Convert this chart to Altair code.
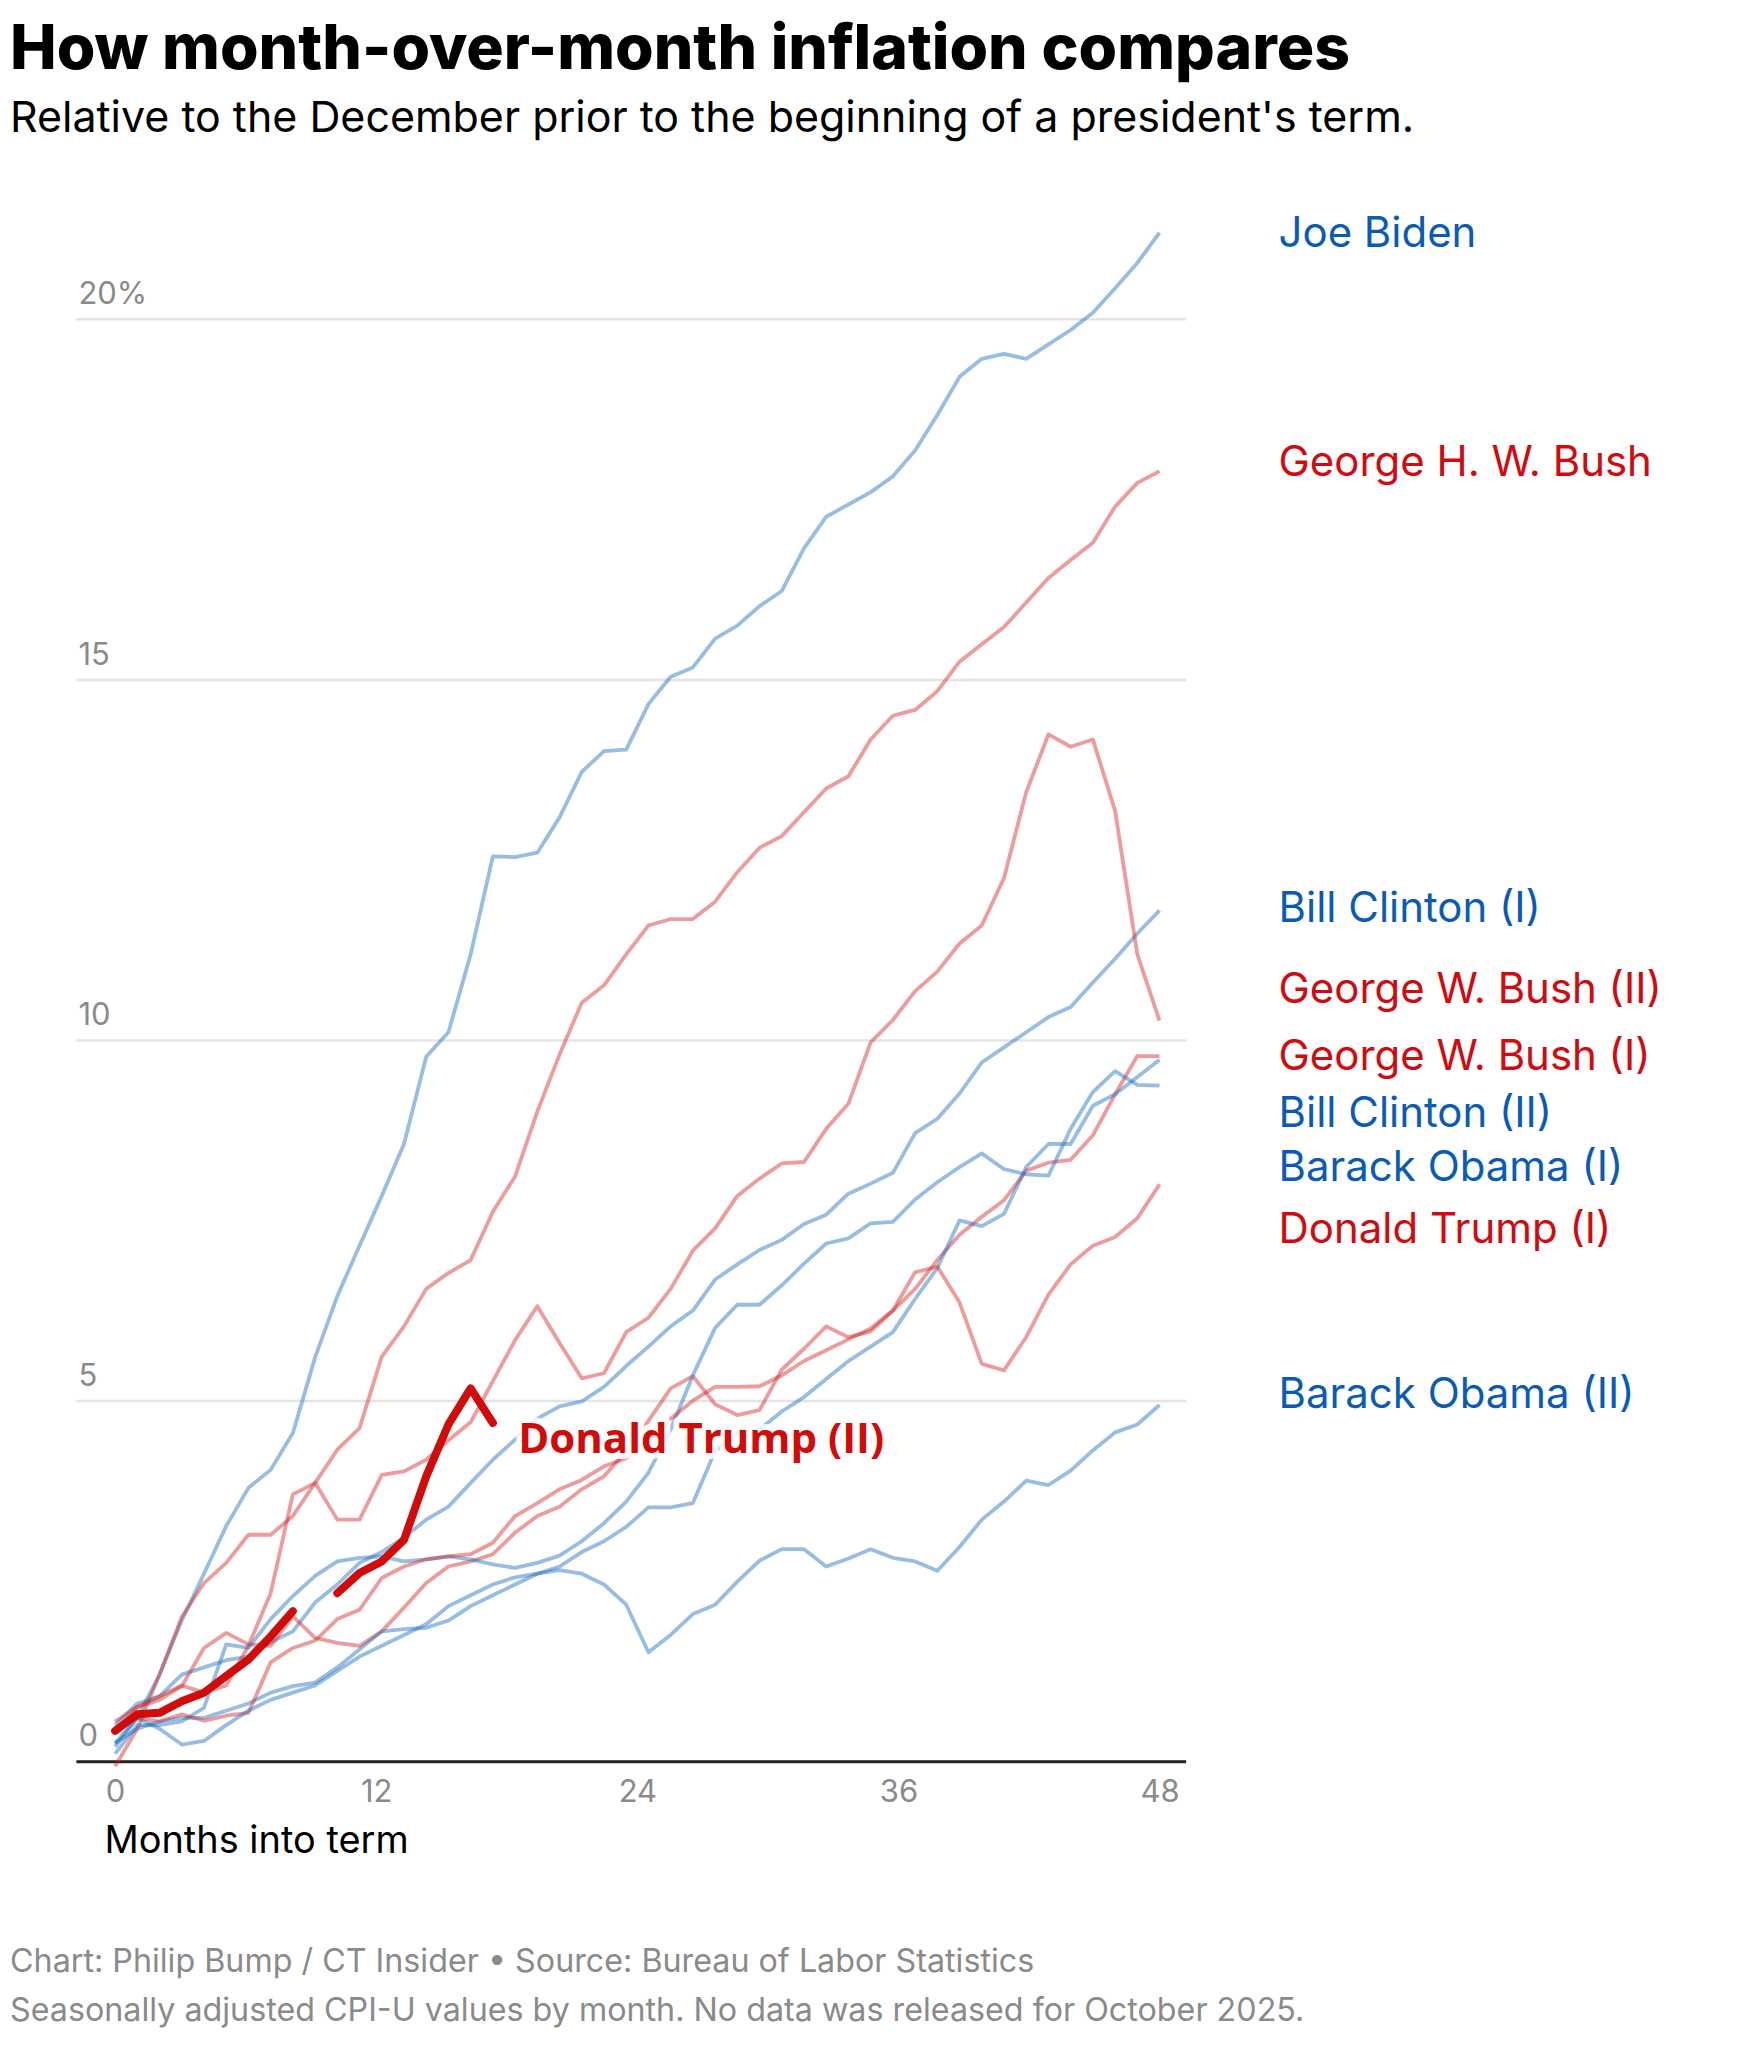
import altair as alt
import pandas as pd

TITLE = "How month-over-month inflation compares"
SUBTITLE = "Relative to the December prior to the beginning of a president's term."
FOOTER_1 = "Chart: Philip Bump / CT Insider \u2022 Source: Bureau of Labor Statistics"
FOOTER_2 = "Seasonally adjusted CPI-U values by month. No data was released for October 2025."
X_TITLE = "Months into term"
TRUMP2_LABEL = "Donald Trump (II)"

presidents = ["Joe Biden", "George H. W. Bush", "Bill Clinton (I)", "George W. Bush (II)",
              "George W. Bush (I)", "Bill Clinton (II)", "Barack Obama (I)",
              "Donald Trump (I)", "Barack Obama (II)"]
parties = ["D", "R", "D", "R", "R", "D", "D", "R", "D"]
label_y = [21.18, 18.0, 11.82, 10.69, 9.77, 8.98, 8.23, 7.36, 5.08]

# cumulative % change vs. the December before the term, months 1..48
biden = [0.25, 0.6, 1.2, 1.95, 2.6, 3.26, 3.79, 4.04, 4.55, 5.6, 6.45, 7.15, 7.84, 8.56, 9.77, 10.11,
         11.19, 12.55, 12.54, 12.6, 13.09, 13.72, 14.01, 14.03, 14.66, 15.04, 15.17, 15.57, 15.75, 16.02,
         16.23, 16.82, 17.26, 17.43, 17.6, 17.82, 18.18, 18.67, 19.2, 19.45, 19.52, 19.45, 19.65, 19.85,
         20.09, 20.43, 20.78, 21.2]
ghw_bush = [-0.07, 0.45, 1.2, 2.0, 2.47, 2.75, 3.14, 3.14, 3.4, 3.86, 4.32, 4.62, 5.61, 6.03, 6.55, 6.77,
            6.95, 7.62, 8.11, 9.01, 9.8, 10.52, 10.76, 11.19, 11.59, 11.68, 11.68, 11.92, 12.33, 12.67,
            12.83, 13.16, 13.49, 13.66, 14.17, 14.5, 14.58, 14.84, 15.25, 15.49, 15.73, 16.07, 16.41,
            16.66, 16.9, 17.4, 17.73, 17.89]
clinton_1 = [0.5, 0.8, 0.9, 1.2, 1.3, 1.4, 1.45, 1.65, 1.8, 2.2, 2.45, 2.75, 2.9, 3.1, 3.35, 3.53, 3.86,
             4.18, 4.46, 4.75, 4.92, 4.99, 5.19, 5.48, 5.75, 6.03, 6.25, 6.68, 6.89, 7.09, 7.23, 7.45,
             7.58, 7.87, 8.01, 8.16, 8.71, 8.91, 9.26, 9.69, 9.9, 10.11, 10.32, 10.46, 10.8, 11.13,
             11.48, 11.8]
bush_2 = [0.4, 0.75, 0.9, 1.05, 0.95, 1.05, 1.6, 2.33, 3.7, 3.86, 3.35, 3.35, 3.97, 4.02, 4.18, 4.45,
          4.7, 5.27, 5.84, 6.31, 5.8, 5.31, 5.38, 5.95, 6.15, 6.55, 7.08, 7.39, 7.84, 8.08, 8.29, 8.31,
          8.77, 9.12, 9.97, 10.28, 10.68, 10.95, 11.34, 11.59, 12.25, 13.44, 14.24, 14.07, 14.17, 13.18,
          11.19, 10.27]
bush_1 = [0.55, 0.75, 0.85, 1.04, 1.57, 1.78, 1.62, 1.6, 2.01, 1.71, 1.64, 1.6, 1.8, 2.13, 2.47, 2.7,
          2.77, 2.87, 3.17, 3.4, 3.53, 3.77, 3.95, 4.3, 4.72, 5.17, 5.34, 4.95, 4.8, 4.87, 5.43, 5.72,
          6.03, 5.88, 5.96, 6.25, 6.55, 6.95, 7.3, 7.55, 7.78, 8.19, 8.3, 8.34, 8.68, 9.25, 9.78, 9.78]
clinton_2 = [0.25, 0.45, 0.55, 0.6, 0.6, 0.7, 0.8, 0.95, 1.04, 1.09, 1.3, 1.55, 1.8, 1.83, 1.85, 1.95,
             2.15, 2.3, 2.45, 2.6, 2.7, 2.9, 3.05, 3.25, 3.52, 3.52, 3.58, 4.3, 4.55, 4.6, 4.85, 5.05,
             5.3, 5.55, 5.75, 5.95, 6.41, 6.84, 7.5, 7.42, 7.59, 8.24, 8.56, 8.56, 9.09, 9.25, 9.49, 9.73]
obama_1 = [0.1, 0.5, 0.5, 0.55, 0.74, 1.62, 1.57, 1.97, 2.29, 2.57, 2.77, 2.82, 2.84, 2.77, 2.8, 2.84,
           2.8, 2.73, 2.68, 2.75, 2.85, 3.05, 3.3, 3.6, 4.0, 4.6, 5.35, 6.01, 6.33, 6.33, 6.6, 6.9, 7.18,
           7.25, 7.46, 7.48, 7.79, 8.03, 8.24, 8.43, 8.21, 8.14, 8.12, 8.77, 9.28, 9.57, 9.38, 9.37]
trump_1 = [0.45, 0.6, 0.55, 0.65, 0.56, 0.63, 0.67, 1.37, 1.57, 1.67, 1.97, 2.1, 2.54, 2.7, 2.8, 2.84,
           2.87, 3.03, 3.4, 3.58, 3.77, 3.9, 4.09, 4.2, 4.45, 4.75, 5.0, 5.19, 5.19, 5.2, 5.35, 5.55, 5.7,
           5.85, 6.0, 6.25, 6.78, 6.86, 6.36, 5.51, 5.42, 5.88, 6.47, 6.89, 7.15, 7.27, 7.53, 8.0]
obama_2 = [0.2, 0.6, 0.45, 0.23, 0.28, 0.5, 0.7, 0.85, 0.95, 1.05, 1.25, 1.45, 1.6, 1.75, 1.9, 2.15, 2.3,
           2.45, 2.55, 2.6, 2.65, 2.6, 2.45, 2.17, 1.51, 1.75, 2.04, 2.17, 2.49, 2.78, 2.94, 2.94, 2.7,
           2.81, 2.94, 2.82, 2.77, 2.64, 2.97, 3.35, 3.6, 3.89, 3.83, 4.03, 4.31, 4.56, 4.67, 4.94]
series_values = [biden, ghw_bush, clinton_1, bush_2, bush_1, clinton_2, obama_1, trump_1, obama_2]

# current term; None = no release (October 2025)
trump_2 = [0.42, 0.65, 0.67, 0.83, 0.95, 1.18, 1.41, 1.73, 2.08, None, 2.33, 2.61, 2.77, 3.07, 3.95,
           4.67, 5.17, 4.69]
trump_2_label_pos = (18.53, 4.45)

x_ticks = [0, 12, 24, 36, 48]
y_ticks = [0, 5, 10, 15, 20]

LINE_COL = {"D": "#1468bd", "R": "#d41e1e"}
LABEL_COL = {"D": "#0a5bb5", "R": "#d10a10"}
TRUMP2_COL = "#d10a0a"
FONT = "Inter"

# ---- tables ----
rows = []
for name, party, vals in zip(presidents, parties, series_values):
    for i, v in enumerate(vals):
        rows.append({"name": name, "col": LINE_COL[party], "i": i, "v": v})
hist = pd.DataFrame(rows)

t2rows = []
seg = 0
for i, v in enumerate(trump_2):
    if v is None:
        seg += 1
        continue
    t2rows.append({"i": i, "v": v, "seg": seg})
cur = pd.DataFrame(t2rows)

labels = pd.DataFrame({"name": presidents, "ly": label_y,
                       "col": [LABEL_COL[p] for p in parties]})
t2lab = pd.DataFrame({"x": [trump_2_label_pos[0]], "y": [trump_2_label_pos[1]],
                      "t": [TRUMP2_LABEL]})

x_scale = alt.Scale(domain=[-1.8, 49.2], nice=False, zero=False)
y_scale = alt.Scale(domain=[0, 22], nice=False)

x_axis = alt.Axis(values=x_ticks, title=X_TITLE, grid=False, ticks=False, tickSize=0,
                  domainColor="#222222", domainWidth=3,
                  labelColor="#8a8a8a", labelFontSize=31, labelFont=FONT,
                  labelPadding=40, labelBaseline="alphabetic", labelFlush=False,
                  titleFont=FONT, titleFontSize=38, titleFontWeight="normal", titleColor="#000000",
                  titleX=28, titleY=91, titleAlign="left", titleBaseline="alphabetic", titleAngle=0)
y_axis = alt.Axis(values=y_ticks, title=None, domain=False, ticks=False, tickSize=0,
                  grid=True, gridColor="#e4e4e4", gridWidth=2.5,
                  labelColor="#8a8a8a", labelFontSize=31, labelFont=FONT,
                  labelAlign="left", labelBaseline="alphabetic", labelPadding=-2, labelOffset=-15.5,
                  labelExpr="datum.value == 20 ? '20%' : '' + datum.value")

base_hist = alt.Chart(hist).transform_calculate(x="datum.i * 48 / 47")
hist_lines = base_hist.mark_line(strokeWidth=3.8, opacity=0.44, strokeJoin="round").encode(
    x=alt.X("x:Q", scale=x_scale, axis=x_axis),
    y=alt.Y("v:Q", scale=y_scale, axis=y_axis),
    color=alt.Color("col:N", scale=None),
    detail="name:N",
)

cur_line = alt.Chart(cur).transform_calculate(x="datum.i * 48 / 47").mark_line(
    strokeWidth=8, color=TRUMP2_COL, strokeCap="round", strokeJoin="round").encode(
    x=alt.X("x:Q", scale=x_scale),
    y=alt.Y("v:Q", scale=y_scale),
    detail="seg:N",
)

t2_halo = alt.Chart(t2lab).mark_text(align="left", baseline="middle", font="Open Sans",
                                     fontSize=42, fontWeight="bold", stroke="white",
                                     strokeWidth=12, strokeOpacity=0.85, color="white",
                                     strokeJoin="round").encode(
    x=alt.X("x:Q", scale=x_scale), y=alt.Y("y:Q", scale=y_scale), text="t:N")
t2_text = alt.Chart(t2lab).mark_text(align="left", baseline="middle", font="Open Sans",
                                     fontSize=42, fontWeight="bold", color=TRUMP2_COL).encode(
    x=alt.X("x:Q", scale=x_scale), y=alt.Y("y:Q", scale=y_scale), text="t:N")

right_labels = alt.Chart(labels).mark_text(align="left", baseline="middle", font=FONT,
                                           fontSize=42).encode(
    x=alt.value(1204),
    y=alt.Y("ly:Q", scale=y_scale),
    text="name:N",
    color=alt.Color("col:N", scale=None),
)

def txt(s, x, y, size, color, weight="normal"):
    return alt.Chart(pd.DataFrame({"t": [s]})).mark_text(
        align="left", baseline="alphabetic", font=FONT, fontSize=size,
        fontWeight=weight, color=color).encode(x=alt.value(x), y=alt.value(y), text="t:N")

title = txt(TITLE, -66, -106, 62.5, "#000000", 800)
subtitle = txt(SUBTITLE, -66, -43.3, 43, "#000000")
foot1 = txt(FOOTER_1, -66, 1798.7, 32.3, "#8a8a8a")
foot2 = txt(FOOTER_2, -66, 1847.7, 32.3, "#8a8a8a")

chart = alt.layer(hist_lines, cur_line, t2_halo, t2_text, right_labels,
                  title, subtitle, foot1, foot2).properties(
    width=1111, height=1588,
    autosize=alt.AutoSizeParams(type="none"),
    padding={"left": 68, "top": 166, "right": 570, "bottom": 275},
).configure(font=FONT).configure_view(strokeWidth=0, stroke="transparent")

chart.save("out.html", embed_options={"renderer": "svg", "actions": False})
